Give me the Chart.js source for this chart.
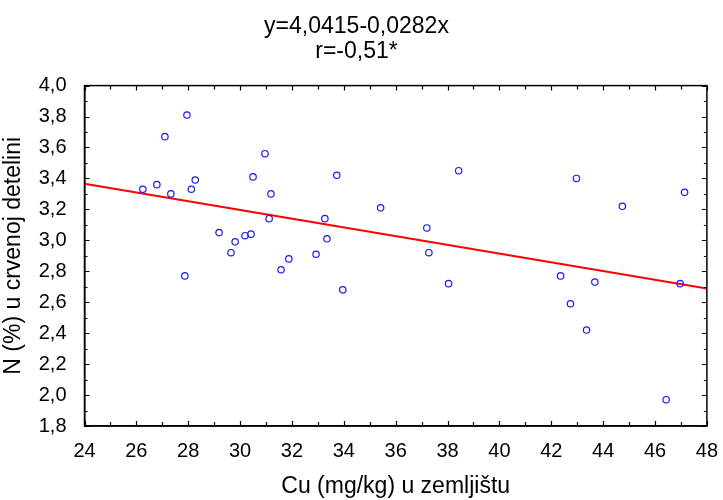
<!DOCTYPE html>
<html>
<head>
<meta charset="utf-8">
<script src="https://cdn.jsdelivr.net/npm/chart.js@4.4.1/dist/chart.umd.min.js"></script>
<style>
  body { margin: 0; background: #ffffff; }
  #wrap { width: 723px; height: 500px; }
</style>
</head>
<body>
<div id="wrap"><canvas id="scatterChart" width="723" height="500"></canvas></div>
<script>
// Cu (mg/kg) in soil vs N (%) in red clover
const cuValues = [
  26.25, 26.79, 27.33, 27.10, 27.95, 28.12, 28.27, 27.87, 29.19, 29.65,
  29.81, 30.19, 30.42, 30.50, 30.96, 31.19, 31.12, 31.58, 31.88, 32.93,
  33.73, 33.27, 33.35, 33.96, 35.42, 37.20, 37.28, 38.43, 38.04, 42.36,
  42.74, 43.36, 43.68, 46.97, 46.43, 42.97, 44.74, 47.14
];
const nValues = [
  3.33, 3.36, 3.30, 3.67, 3.81, 3.33, 3.39, 2.77, 3.05, 2.92,
  2.99, 3.03, 3.04, 3.41, 3.56, 3.30, 3.14, 2.81, 2.88, 2.91,
  3.42, 3.14, 3.01, 2.68, 3.21, 3.08, 2.92, 3.45, 2.72, 2.77,
  2.59, 2.42, 2.73, 2.72, 1.97, 3.40, 3.22, 3.31
];
// regression line end points (y = 4,0415 - 0,0282x at x = 24 and 48)
const fitX = [24, 48];
const fitY = [3.365, 2.688];

const titleLines = ["y=4,0415-0,0282x", "r=-0,51*"];
const xTitle = "Cu (mg/kg) u zemljištu";
const yTitle = "N (%) u crvenoj detelini";

const fontFamily = "'Liberation Sans', Arial, sans-serif";

// frame on all sides plus small inward ticks
const frameTicks = {
  id: "frameTicks",
  afterDraw(chart) {
    const { ctx, chartArea: a, scales } = chart;
    const xs = scales.x, ys = scales.y;
    ctx.save();
    ctx.strokeStyle = "#000000";
    ctx.lineWidth = 1.5;
    ctx.strokeRect(a.left, a.top, a.right - a.left, a.bottom - a.top);
    ctx.lineWidth = 1.2;
    ctx.beginPath();
    for (let v = xs.min; v <= xs.max; v += 1) {
      const px = Math.round(xs.getPixelForValue(v)) + 0.5;
      const len = v % 2 === 0 ? 5 : 4;
      ctx.moveTo(px, a.bottom);
      ctx.lineTo(px, a.bottom - len);
      ctx.moveTo(px, a.top);
      ctx.lineTo(px, a.top + len);
    }
    for (let i = 0; i <= 22; i++) {
      const v = ys.min + i * 0.1;
      const py = Math.round(ys.getPixelForValue(v)) + 0.5;
      const len = i % 2 === 0 ? 5 : 3;
      ctx.moveTo(a.left, py);
      ctx.lineTo(a.left + len, py);
      ctx.moveTo(a.right, py);
      ctx.lineTo(a.right - len, py);
    }
    ctx.stroke();
    ctx.restore();
  },
};

const ctx = document.getElementById("scatterChart").getContext("2d");

new Chart(ctx, {
  type: "scatter",
  data: {
    datasets: [
      {
        label: "fit",
        data: fitX.map((x, i) => ({ x: x, y: fitY[i] })),
        showLine: true,
        borderColor: "#ff0000",
        borderWidth: 2,
        pointRadius: 0,
        fill: false,
        order: 2,
      },
      {
        label: "N",
        data: cuValues.map((x, i) => ({ x: x, y: nValues[i] })),
        pointStyle: "circle",
        pointRadius: 3.2,
        pointBorderWidth: 1.2,
        pointBorderColor: "#1a1aff",
        pointBackgroundColor: "rgba(0,0,0,0)",
        order: 1,
      },
    ],
  },
  options: {
    responsive: false,
    animation: false,
    layout: { padding: { left: 0, right: 10, top: 0, bottom: 0 } },
    plugins: {
      legend: { display: false },
      tooltip: { enabled: false },
      title: {
        display: true,
        text: titleLines,
        color: "#000000",
        font: { family: fontFamily, size: 23, weight: "normal", lineHeight: 1.1 },
        padding: { top: 14, bottom: 21 },
      },
    },
    scales: {
      x: {
        type: "linear",
        min: 24,
        max: 48,
        grid: { display: false },
        border: { display: true, color: "#000000", width: 1.5 },
        ticks: {
          stepSize: 2,
          padding: 5,
          color: "#000000",
          font: { family: fontFamily, size: 20 },
        },
        title: {
          display: true,
          text: xTitle,
          color: "#000000",
          font: { family: fontFamily, size: 23, lineHeight: 1.2 },
          padding: { top: 0, bottom: 0 },
        },
        afterFit(scale) {
          scale.height = 74;
        },
      },
      y: {
        type: "linear",
        min: 1.8,
        max: 4.0,
        grid: { display: false },
        border: { display: true, color: "#000000", width: 1.5 },
        ticks: {
          stepSize: 0.2,
          padding: 10,
          color: "#000000",
          font: { family: fontFamily, size: 20 },
          callback: (v) => v.toFixed(1).replace(".", ","),
        },
        title: {
          display: true,
          text: yTitle,
          color: "#000000",
          font: { family: fontFamily, size: 23, lineHeight: 1.2 },
          padding: { top: 0, bottom: 0 },
        },
        afterFit(scale) {
          scale.width = 84.5;
        },
      },
    },
  },
  plugins: [frameTicks],
});
</script>
</body>
</html>
